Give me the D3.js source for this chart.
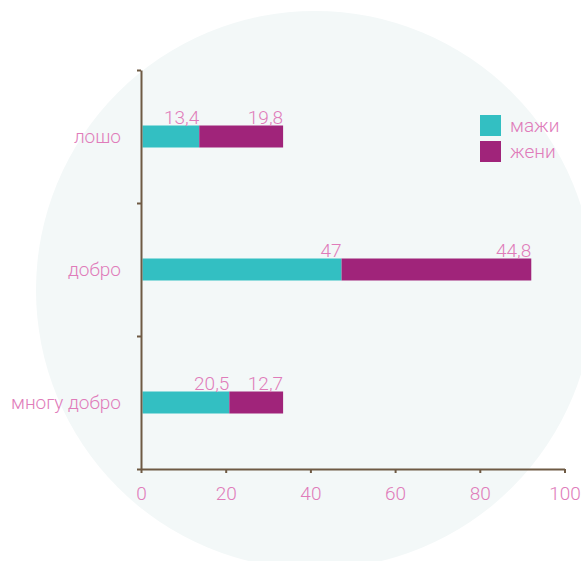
<!DOCTYPE html>
<html>
<head>
<meta charset="utf-8">
<script src="https://cdn.jsdelivr.net/npm/d3@7"></script>
<style>
	body { margin: 0; background: #fff; }
	text { font-family: Roboto, "DejaVu Sans", sans-serif; font-weight: 300; fill: #e07cba; }
	.axis path, .axis line { stroke: #6e5a44; }
</style>
</head>
<body>
<div id="container"></div>
<script>
// 1. Data
const categories = ["лошо", "добро", "многу добро"]
const men = [13.4, 47, 20.5]
const women = [19.8, 44.8, 12.7]
const seriesNames = ["мажи", "жени"]
const xTicks = [0, 20, 40, 60, 80, 100]

const rows = categories.map((c, i) => ({ category: c, men: men[i], women: women[i] }))

// 2. Dimensions
const width = 581
const height = 561
const plot = { left: 141, right: 564.5, top: 70, bottom: 469 }
const barHeight = 22
const barShift = 1.5
const fontSize = 19
const colors = ["#33bfc2", "#a0247a"]

// 3. Canvas
const svg = d3.select("#container")
	.append("svg")
	.attr("width", width)
	.attr("height", height)

// background disc
svg.append("circle")
	.attr("cx", 315)
	.attr("cy", 290)
	.attr("r", 279)
	.attr("fill", "#f3f8f8")

// 4. Scales
const x = d3.scaleLinear()
	.domain([0, 100])
	.range([plot.left, plot.right])

const y = d3.scaleBand()
	.domain(categories)
	.range([plot.top, plot.bottom])

const yEdges = d3.scaleLinear()
	.domain([0, categories.length])
	.range([plot.top, plot.bottom])

// 5. Bars
const stack = d3.stack().keys(["men", "women"])(rows)

const layers = svg.selectAll(".layer")
	.data(stack)
	.join("g")
	.attr("class", "layer")
	.attr("fill", (d, i) => colors[i])
	.attr("transform", `translate(${barShift}, 0)`)

layers.selectAll("rect")
	.data(d => d)
	.join("rect")
	.attr("x", d => x(d[0]))
	.attr("width", d => x(d[1]) - x(d[0]))
	.attr("y", d => y(d.data.category) + y.bandwidth() / 2 - barHeight / 2)
	.attr("height", barHeight)

// value labels, right-aligned on each segment end
layers.selectAll("text")
	.data(layer => layer.map(d => ({ d, key: layer.key })))
	.join("text")
	.attr("x", ({ d }) => x(d[1]))
	.attr("y", ({ d }) => y(d.data.category) + y.bandwidth() / 2 - barHeight / 2 - 2)
	.attr("text-anchor", "end")
	.style("font-size", fontSize + "px")
	.text(({ d, key }) => String(d.data[key]).replace(".", ","))

// 6. Axes
const xAxis = svg.append("g")
	.attr("class", "axis")
	.attr("transform", `translate(0, ${plot.bottom})`)
	.call(d3.axisBottom(x).tickValues(xTicks).tickSize(4).tickPadding(14).tickSizeOuter(0))

xAxis.select(".domain").attr("stroke-width", 2)
xAxis.selectAll("line").attr("stroke-width", 2)
xAxis.selectAll("text")
	.style("font-size", fontSize + "px")
	.attr("fill", null)

const yAxis = svg.append("g")
	.attr("class", "axis")
	.attr("transform", `translate(${plot.left}, 0)`)
	.call(d3.axisLeft(yEdges).ticks(categories.length).tickSize(4).tickSizeOuter(0).tickFormat(""))

yAxis.select(".domain").attr("stroke-width", 2)
yAxis.selectAll("line").attr("stroke-width", 2)

// category labels
svg.selectAll(".cat")
	.data(categories)
	.join("text")
	.attr("class", "cat")
	.attr("x", plot.left - 20)
	.attr("y", d => y(d) + y.bandwidth() / 2)
	.attr("dy", "0.35em")
	.attr("text-anchor", "end")
	.style("font-size", fontSize + "px")
	.text(d => d)

// legend
const legend = svg.selectAll(".legend")
	.data(seriesNames)
	.join("g")
	.attr("class", "legend")
	.attr("transform", (d, i) => `translate(480, ${115 + i * 26})`)

legend.append("rect")
	.attr("width", 21)
	.attr("height", 21)
	.attr("fill", (d, i) => colors[i])

legend.append("text")
	.attr("x", 30)
	.attr("y", 10.5)
	.attr("dy", "0.35em")
	.style("font-size", fontSize + "px")
	.text(d => d)
</script>
</body>
</html>
